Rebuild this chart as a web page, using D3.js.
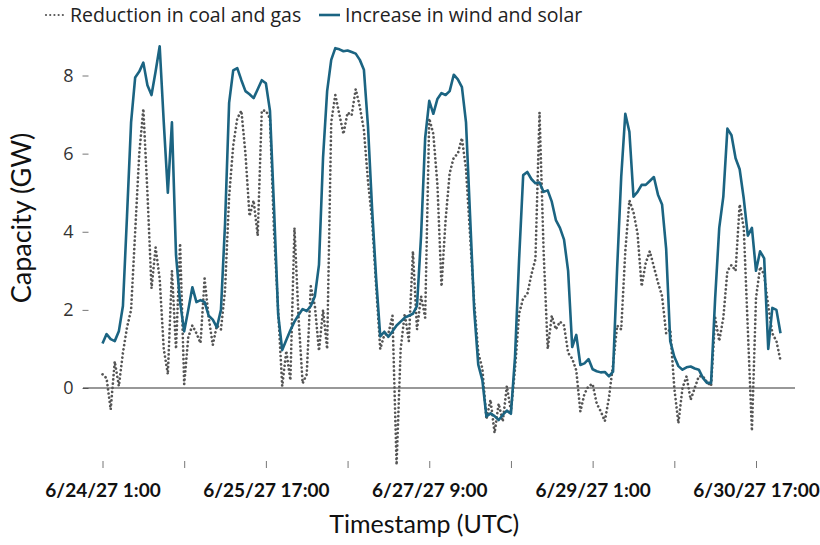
<!DOCTYPE html>
<html>
<head>
<meta charset="utf-8">
<script src="https://cdn.jsdelivr.net/npm/d3@7"></script>
<style>
  html, body { margin: 0; padding: 0; background: #fff; }
  svg { display: block; }
</style>
</head>
<body>
<svg id="chart" width="820" height="545"></svg>
<script>
// Hourly series, starting 6/24/27 1:00 UTC (GW)
const coalGasReduction = [
  0.35, 0.25, -0.55, 0.68, 0.05, 0.9, 1.55, 2.0, 4.0, 6.0,
  7.15, 5.0, 2.55, 3.6, 2.8, 1.0, 0.35, 3.0, 1.0, 3.7,
  0.1, 1.3, 1.6, 1.4, 1.15, 2.8, 1.8, 1.1, 1.6, 1.5,
  2.5, 4.9, 6.2, 6.9, 7.1, 6.0, 4.4, 4.8, 3.9, 7.1,
  7.1, 6.9, 4.0, 2.0, 0.05, 0.95, 0.2, 4.1, 1.8, 0.12,
  0.35, 2.6, 2.1, 0.95, 2.0, 1.0, 6.8, 7.5, 7.0, 6.5,
  7.05, 6.98, 7.65, 7.2, 6.6, 5.3, 4.3, 2.6, 1.0, 1.36,
  1.4, 1.85, -1.97, 1.0, 1.9, 1.2, 3.5, 1.5, 2.35, 1.8,
  6.9, 6.5, 5.2, 2.6, 4.3, 5.5, 5.9, 6.0, 6.4, 5.6,
  3.9, 2.2, 0.9, 0.5, -0.8, -0.3, -1.15, -0.4, -0.86, 0.05,
  -0.6, 0.5, 1.9, 2.3, 2.4, 2.9, 3.3, 7.05, 3.5, 1.0,
  1.85, 1.5, 1.7, 1.6, 0.9, 0.75, 0.45, -0.6, -0.15, 0.05,
  0.1, -0.4, -0.6, -0.85, -0.25, 0.6, 1.6, 1.5, 3.5, 4.8,
  4.5, 3.95, 2.6, 3.2, 3.5, 3.1, 2.7, 2.35, 1.4, 1.5,
  0.0, -0.9, 0.0, 0.3, -0.3, 0.0, 0.3, 0.3, 0.15, 0.05,
  1.8, 1.2, 1.8, 3.0, 3.15, 3.0, 4.7, 4.1, 1.5, -1.1,
  2.3, 3.1, 2.9, 2.1, 1.4, 1.2, 0.7
];

const windSolarIncrease = [
  1.14, 1.38, 1.25, 1.2, 1.45, 2.1, 4.4, 6.8, 7.95, 8.1,
  8.33, 7.75, 7.5, 8.1, 8.75, 6.8, 5.0, 6.8, 3.4, 2.2,
  1.45, 2.0, 2.58, 2.2, 2.25, 2.2, 1.85, 1.75, 1.55, 2.0,
  4.2, 7.3, 8.13, 8.19, 7.88, 7.6, 7.52, 7.42, 7.65, 7.88,
  7.8, 7.1, 4.6, 1.9, 0.97, 1.23, 1.48, 1.7, 1.87, 2.02,
  1.97, 2.1, 2.35, 3.15, 5.9, 7.6, 8.4, 8.7, 8.67, 8.62,
  8.64, 8.6, 8.56, 8.4, 8.15, 6.7, 4.6, 2.8, 1.32, 1.44,
  1.31, 1.45, 1.6, 1.7, 1.8, 1.85, 1.9, 2.1, 3.9, 6.4,
  7.35, 7.02, 7.4, 7.55, 7.5, 7.6, 8.02, 7.9, 7.7, 6.8,
  4.4, 2.0, 0.6, 0.2, -0.73, -0.65, -0.72, -0.82, -0.69, -0.58,
  -0.66, 0.8, 3.3, 5.45, 5.53, 5.35, 5.24, 5.26, 5.02, 5.06,
  4.77, 4.3, 4.1, 3.8, 3.0, 1.05, 1.36, 0.59, 0.63, 0.74,
  0.48, 0.43, 0.4, 0.41, 0.3, 0.42, 3.06, 5.4, 7.02, 6.56,
  4.9, 5.02, 5.2, 5.2, 5.3, 5.4, 4.95, 4.7, 3.57, 1.2,
  0.8, 0.56, 0.47, 0.53, 0.55, 0.5, 0.47, 0.26, 0.13, 0.13,
  2.3, 4.1, 4.9, 6.64, 6.47, 5.88, 5.6, 4.85, 3.9, 4.1,
  3.0, 3.5, 3.32, 1.0, 2.05, 2.0, 1.4
];

const seriesNames = ["Reduction in coal and gas", "Increase in wind and solar"];
const yTicks = [0, 2, 4, 6, 8];
const xTickLabels = ["6/24/27 1:00", "6/25/27 17:00", "6/27/27 9:00", "6/29/27 1:00", "6/30/27 17:00"];
const xAxisTitle = "Timestamp (UTC)";
const yAxisTitle = "Capacity (GW)";

const HOUR = 3600 * 1000;
const start = Date.UTC(2027, 5, 24, 1);
const timeAt = i => new Date(start + i * HOUR);

const svg = d3.select("#chart");

const x = d3.scaleUtc()
  .domain([timeAt(0), timeAt(160)])
  .range([102.5, 756]);

const y = d3.scaleLinear()
  .domain([0, 8])
  .range([388, 75.5]);

const tickFont = "'Open Sans', 'Noto Sans', sans-serif";
const titleFont = "Lato, 'Noto Sans', sans-serif";

// x axis: a tick every 20 hours, labelled every 40 hours
const xTickValues = d3.range(9).map(k => timeAt(k * 20));
const xAxis = d3.axisBottom(x)
  .tickValues(xTickValues)
  .tickSize(7)
  .tickPadding(16)
  .tickFormat((d, i) => (i % 2 === 0 ? xTickLabels[i / 2] : ""));

const gx = svg.append("g")
  .attr("transform", "translate(0,461)")
  .call(xAxis);
gx.select(".domain").remove();
gx.selectAll(".tick line").attr("stroke", "#777").attr("stroke-width", 1);
gx.selectAll(".tick text")
  .attr("fill", "#111")
  .style("font-family", titleFont)
  .style("font-weight", "700")
  .style("font-size", "19px");

// y axis
const yAxis = d3.axisLeft(y)
  .tickValues(yTicks)
  .tickSize(6)
  .tickPadding(9)
  .tickFormat(d3.format("d"));

const gy = svg.append("g")
  .attr("transform", "translate(88.5,0)")
  .call(yAxis);
gy.select(".domain").remove();
gy.selectAll(".tick line").attr("stroke", "#777").attr("stroke-width", 1);
gy.selectAll(".tick text")
  .attr("fill", "#333")
  .style("font-family", tickFont)
  .style("font-size", "18px");

// zero reference line
svg.append("line")
  .attr("x1", 83).attr("x2", 795)
  .attr("y1", y(0)).attr("y2", y(0))
  .attr("stroke", "#333")
  .attr("stroke-width", 1.2);

const line = d3.line()
  .x((d, i) => x(timeAt(i)))
  .y(d => y(d));

const dotStyle = { color: "#555", width: 2.7, dash: "0.01 4.2" };
const solidStyle = { color: "#1b6482", width: 2.6 };

svg.append("path")
  .datum(coalGasReduction)
  .attr("d", line)
  .attr("fill", "none")
  .attr("stroke", dotStyle.color)
  .attr("stroke-width", dotStyle.width)
  .attr("stroke-linecap", "round")
  .attr("stroke-dasharray", dotStyle.dash);

svg.append("path")
  .datum(windSolarIncrease)
  .attr("d", line)
  .attr("fill", "none")
  .attr("stroke", solidStyle.color)
  .attr("stroke-width", solidStyle.width)
  .attr("stroke-linejoin", "round");

// axis titles
svg.append("text")
  .attr("x", x(timeAt(80)) - 5)
  .attr("y", 533)
  .attr("text-anchor", "middle")
  .attr("fill", "#111")
  .style("font-family", titleFont)
  .style("font-size", "25px")
  .text(xAxisTitle);

svg.append("text")
  .attr("transform", "translate(31,218) rotate(-90)")
  .attr("text-anchor", "middle")
  .attr("fill", "#111")
  .style("font-family", titleFont)
  .style("font-size", "27px")
  .text(yAxisTitle);

// legend
const legend = svg.append("g").attr("transform", "translate(0,15)");
legend.append("line")
  .attr("x1", 46).attr("x2", 64).attr("y1", 0).attr("y2", 0)
  .attr("stroke", dotStyle.color)
  .attr("stroke-width", 2.2)
  .attr("stroke-linecap", "round")
  .attr("stroke-dasharray", "0.01 4.2");
legend.append("text")
  .attr("x", 70).attr("y", 0).attr("dy", "0.35em")
  .attr("fill", "#222")
  .style("font-family", tickFont)
  .style("font-size", "19.5px")
  .text(seriesNames[0]);
legend.append("line")
  .attr("x1", 319).attr("x2", 340).attr("y1", 0).attr("y2", 0)
  .attr("stroke", solidStyle.color)
  .attr("stroke-width", 2.6);
legend.append("text")
  .attr("x", 345).attr("y", 0).attr("dy", "0.35em")
  .attr("fill", "#222")
  .style("font-family", tickFont)
  .style("font-size", "19.5px")
  .text(seriesNames[1]);
</script>
</body>
</html>
